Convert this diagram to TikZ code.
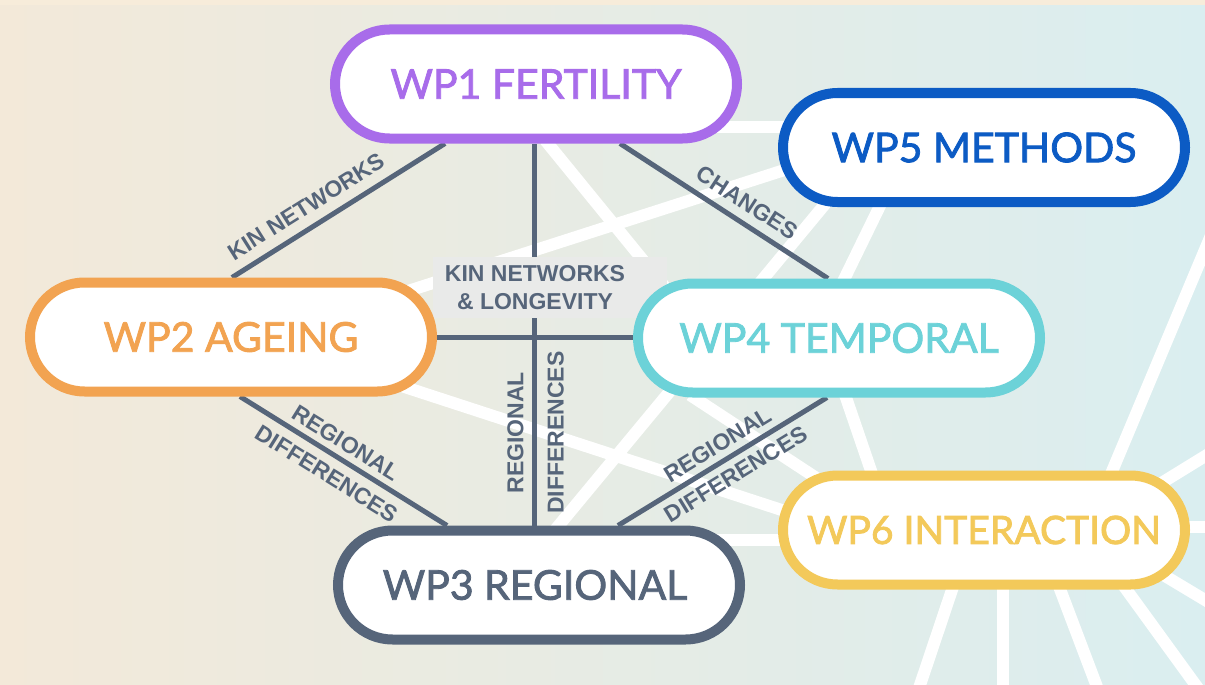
\documentclass[tikz,border=0pt]{standalone}
\usepackage{fontspec}
\newfontfamily\wpfont{Lato}[FakeBold=2]
\newfontfamily\labfont{Liberation Sans}
\usetikzlibrary{shapes.misc}
\pgfdeclarelayer{back}
\pgfdeclarelayer{lines}
\pgfsetlayers{back,lines,main}
\definecolor{purp}{HTML}{A86CEA}
\definecolor{wblue}{HTML}{0C5BC4}
\definecolor{worange}{HTML}{F2A351}
\definecolor{wteal}{HTML}{6CD2D8}
\definecolor{slate}{HTML}{56657A}
\definecolor{wyellow}{HTML}{F3C95A}
\definecolor{bgL}{HTML}{F3E9D9}
\definecolor{bgM}{HTML}{E6EAE3}
\definecolor{bgR}{HTML}{DAEEF0}
\definecolor{bgTop}{HTML}{F7ECDA}
\definecolor{kinbg}{HTML}{E9EAE9}
\begin{document}
\begin{tikzpicture}[x=1pt,y=-1pt,
  wp/.style={rounded rectangle, draw=#1, text=#1, fill=white, line width=10pt,
    minimum width=402pt, minimum height=109pt, inner sep=0pt,
    font=\wpfont\fontsize{41}{48}\selectfont},
  conn/.style={draw=slate, line width=5pt},
  lab/.style={font=\labfont\bfseries\fontsize{23}{27}\selectfont, text=slate, inner sep=0pt, sloped},
  bgline/.style={draw=white, line width=12pt},
  kinbox/.style={fill=kinbg, draw=none, minimum width=234pt, minimum height=61pt, inner sep=0pt},
  kintext/.style={font=\labfont\bfseries\fontsize{23}{28}\selectfont, text=slate, align=center, inner sep=0pt}
]
\useasboundingbox (0,0) rectangle (1205,685);

% background
\begin{pgfonlayer}{back}
  \shade[left color=bgL, middle color=bgM, right color=bgR] (0,0) rectangle (1205,685);
  \fill[bgTop] (0,0) rectangle (1205,5);
  % decorative white network lines
  \draw[bgline] (380,300) -- (800,165);
  \draw[bgline] (545,140) -- (700,330);
  \draw[bgline] (555,530) -- (845,180);
  \draw[bgline] (380,379) -- (840,529);
  \draw[bgline] (700,540) -- (800,540);
  \draw[bgline] (840,380) -- (880,497);
  \draw[bgline] (895,175) -- (834,300);
  \draw[bgline] (700,127) -- (820,127);
  \draw[bgline] (690,395) -- (850,500);
  \draw[bgline] (1100,500) -- (1230,190);
  \draw[bgline] (1150,527) -- (1215,527);
  \draw[bgline] (1150,490) -- (1215,450);
  \draw[bgline] (1150,567) -- (1215,606);
  \draw[bgline] (1110,567) -- (1200,691);
  \draw[bgline] (1049,560) -- (1102,700);
  \draw[bgline] (1003,560) -- (1003,700);
  \draw[bgline] (962,560) -- (915,700);
\end{pgfonlayer}

% central label box
\node[kinbox] (kin) at (550,287.5) {};
\node[kintext] (kintxt) at (535,288) {KIN NETWORKS\\\& LONGEVITY};

% work package nodes
\node[wp=purp] (wp1) at (536,84) {WP1 FERTILITY};
\node[wp=wblue] (wp5) at (984,147.5) {WP5 METHODS};
\node[wp=worange] (wp2) at (231,337) {WP2 AGEING};
\node[wp=wteal] (wp4) at (839,338) {WP4 TEMPORAL};
\node[wp=slate] (wp3) at (539,585) {\hspace*{-8pt}WP3 REGIONAL};
\node[wp=wyellow, font=\wpfont\fontsize{39}{46}\selectfont] (wp6) at (984,530) {WP6 INTERACTION};

% connectors
\begin{pgfonlayer}{lines}
  \draw[conn] ([xshift=1pt]wp2.north) -- node[lab, pos=0.40, above=10pt] {KIN NETWORKS} ([xshift=-91pt]wp1.south);
  \draw[conn] ([xshift=84pt]wp1.south) -- node[lab, pos=0.56, above=9pt] {CHANGES} ([xshift=-11pt]wp4.north);
  \draw[conn] ([xshift=-2pt]wp1.south |- wp3.north) -- node[lab, pos=0.243, above=8pt] {REGIONAL}
      node[lab, pos=0.243, below=11pt] {DIFFERENCES} ([xshift=-2pt]wp1.south);
  \draw[conn] (wp2.east) -- (wp2.east -| wp4.west);
  \draw[conn] ([xshift=9pt]wp2.south) -- node[lab, pos=0.47, above=6pt] {REGIONAL}
      node[lab, pos=0.47, below=9pt] {DIFFERENCES} ([xshift=-92pt]wp3.north);
  \draw[conn] ([xshift=79pt]wp3.north) -- node[lab, pos=0.52, above=6pt] {REGIONAL}
      node[lab, pos=0.52, below=7pt] {DIFFERENCES} ([xshift=-12pt]wp4.south);
\end{pgfonlayer}
\end{tikzpicture}
\end{document}
